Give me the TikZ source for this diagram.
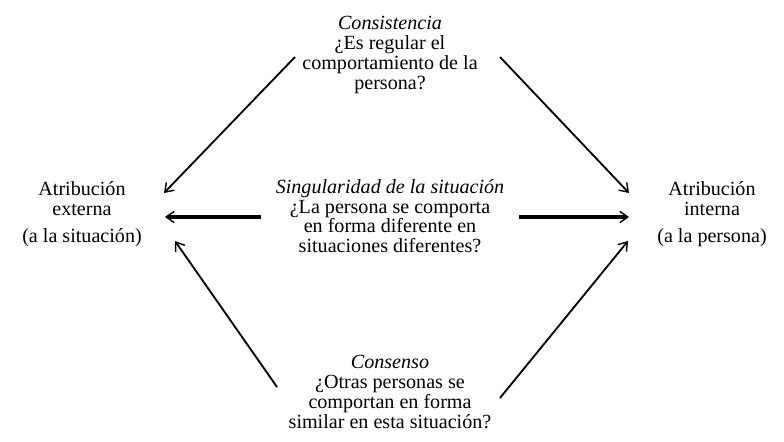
\documentclass[tikz,border=0pt]{standalone}
\usepackage{fontspec}
\setmainfont{Liberation Serif}
\usetikzlibrary{arrows.meta}

\tikzset{
  txt/.style={align=center, inner sep=0pt, font=\fontsize{14.3}{14}\selectfont},
  thinarr/.style={line width=1.3pt, -{Straight Barb[length=2mm,width=2.8mm,line width=1pt]}},
  thickarr/.style={line width=2.2pt, -{Straight Barb[length=2mm,width=2.8mm,line width=1pt]}}
}

\begin{document}
\begin{tikzpicture}
        \useasboundingbox (0,0) rectangle (19.6,11.025);

        \node [txt] (cons) at (9.75, 9.65) {\textit{Consistencia}\\ ¿Es regular el\\ comportamiento de la\\ persona?};
        \node [txt] (sing) at (9.75, 5.625) {\textit{Singularidad de la situación}\\ ¿La persona se comporta\\ en forma diferente en\\ situaciones diferentes?};
        \node [txt] (consen) at (9.75, 1.225) {\textit{Consenso}\\ ¿Otras personas se\\ comportan en forma\\ similar en esta situación?};
        \node [txt] (ext) at (2.05, 5.675) {Atribución\\ externa\\[5pt] (a la situación)};
        \node [txt] (int) at (17.8, 5.675) {Atribución\\ interna\\[5pt] (a la persona)};

        \coordinate (cons-l) at (7.375, 9.6);
        \coordinate (cons-r) at (12.5, 9.6);
        \coordinate (sing-l) at (6.525, 5.6);
        \coordinate (sing-r) at (12.975, 5.6);
        \coordinate (consen-l) at (6.925, 1.35);
        \coordinate (consen-r) at (12.5, 1.075);
        \coordinate (ext-top) at (4.1, 6.2);
        \coordinate (ext-mid) at (4.125, 5.6);
        \coordinate (ext-bot) at (4.375, 5.0);
        \coordinate (int-top) at (15.725, 6.2);
        \coordinate (int-mid) at (15.725, 5.6);
        \coordinate (int-bot) at (15.7, 5.0);

        \draw[thinarr] (cons-l) -- (ext-top);
        \draw[thinarr] (cons-r) -- (int-top);
        \draw[thickarr] (sing-l) -- (ext-mid);
        \draw[thickarr] (sing-r) -- (int-mid);
        \draw[thinarr] (consen-l) -- (ext-bot);
        \draw[thinarr] (consen-r) -- (int-bot);
      \end{tikzpicture}
\end{document}
